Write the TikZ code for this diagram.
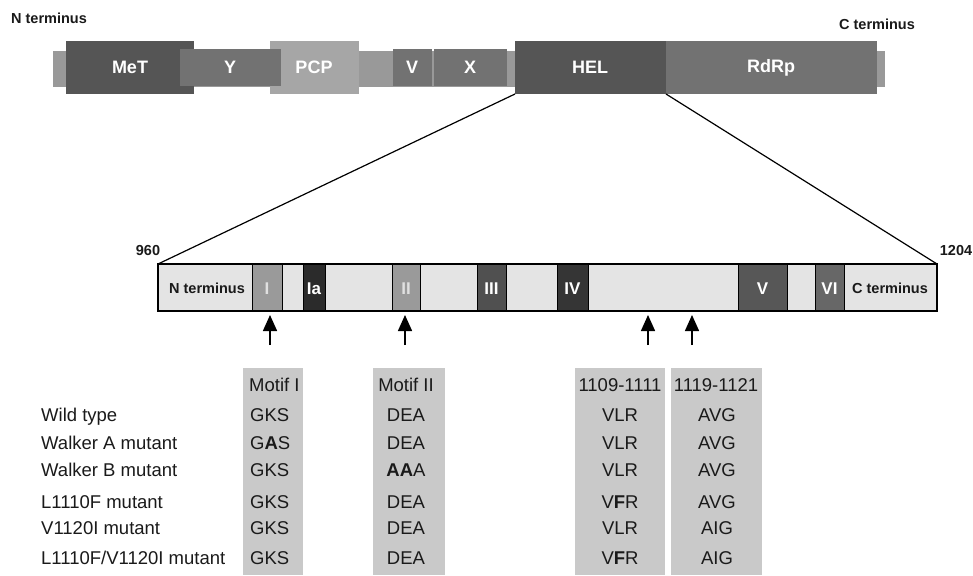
\documentclass[tikz,border=0pt]{standalone}
\usepackage{fontspec}
\setmainfont{Liberation Sans}
\usetikzlibrary{arrows.meta,fit}
\definecolor{stub}{HTML}{999999}
\definecolor{dark}{HTML}{555555}
\definecolor{mid}{HTML}{727272}
\definecolor{pcp}{HTML}{A6A6A6}
\definecolor{lbar}{HTML}{E4E4E4}
\definecolor{colg}{HTML}{C9C9C9}
\definecolor{mI}{HTML}{9A9A9A}
\definecolor{mIa}{HTML}{2B2B2B}
\definecolor{mIII}{HTML}{505050}
\definecolor{mIV}{HTML}{353535}
\definecolor{mV}{HTML}{575757}
\definecolor{mVI}{HTML}{676767}
\definecolor{txt}{HTML}{1A1A1A}
\begin{document}
\begin{tikzpicture}[x=1pt,y=-1pt,
  seg/.style={inner sep=0pt, outer sep=0pt, draw=none},
  lbl/.style={text=white, inner sep=0pt, anchor=base, font=\fontsize{18}{18}\selectfont\bfseries},
  motif/.style={inner sep=0pt, outer sep=0pt, draw=black, line width=1pt},
  mlbl/.style={text=white, inner sep=0pt, anchor=base, font=\fontsize{17}{17}\selectfont\bfseries},
  term/.style={text=txt, font=\fontsize{14.5}{14.5}\selectfont\bfseries, inner sep=0pt},
  tab/.style={text=txt, font=\fontsize{18.5}{18.5}\selectfont, inner sep=0pt, anchor=base},
  col/.style={inner sep=0pt, outer sep=0pt, fill=colg, draw=none},
  arr/.style={-{Triangle[width=14pt,length=16pt]}, line width=1.5pt, black},
  zoomline/.style={line width=1.2pt, black}
]
\useasboundingbox (0,0) rectangle (973,575);
\fill[white] (0,0) rectangle (973,575);

% ---------- top polyprotein bar ----------
\node[seg, fill=stub, fit={(53,51)(885,87)}] (base) {};
\node[seg, fill=dark, fit={(66,41)(194,94)}] (met) {};
\node[seg, fill=pcp, fit={(270,41)(359,94)}] (pcp) {};
\node[seg, fill=mid, fit={(180,49)(281,86)}] (y) {};
\node[seg, fill=mid, fit={(393,49)(432,86)}] (v) {};
\node[seg, fill=mid, fit={(434,49)(507,86)}] (x) {};
\node[seg, fill=dark, fit={(515,41)(666,94)}] (hel) {};
\node[seg, fill=mid, fit={(666,41)(877,94)}] (rdrp) {};

\node[lbl] at (130,74) {MeT};
\node[lbl] at (230,74) {Y};
\node[lbl] at (314,74) {PCP};
\node[lbl] at (412,74) {V};
\node[lbl] at (470,74) {X};
\node[lbl] at (590,74) {HEL};
\node[lbl] at (771,73) {RdRp};

\node[term] (nterm) at (49,18) {N terminus};
\node[term] (cterm) at (877,24) {C terminus};

% ---------- helicase domain ----------
\node[seg, fill=lbar, fit={(158,264)(937,311)}] (heldom) {};
\node[motif, fill=mI, fit={(252,264)(282,311)}] (mI) {};
\node[motif, fill=mIa, fit={(303,264)(325,311)}] (mIa) {};
\node[motif, fill=mI, fit={(392,264)(420,311)}] (mII) {};
\node[motif, fill=mIII, fit={(477,264)(506,311)}] (mIII) {};
\node[motif, fill=mIV, fit={(557,264)(588,311)}] (mIV) {};
\node[motif, fill=mV, fit={(738,264)(787,311)}] (mV) {};
\node[motif, fill=mVI, fit={(815,264)(844,311)}] (mVI) {};
\draw[line width=1.2pt] (heldom.north west) rectangle (heldom.south east);

\node[mlbl, text=white!88!black] at (267,294) {I};
\node[mlbl] at (314,294) {Ia};
\node[mlbl, text=white!88!black] at (406,294) {II};
\node[mlbl] at (491.5,294) {III};
\node[mlbl] at (572.5,294) {IV};
\node[mlbl] at (762.5,294) {V};
\node[mlbl] at (829.5,294) {VI};

\node[term] (nt2) at (207,288) {N terminus};
\node[term] (ct2) at (890,288) {C terminus};
\node[term] (n960) at (148,251) {960};
\node[term] (n1204) at (956,251) {1204};

\draw[zoomline] (hel.south west) -- (heldom.north west);
\draw[zoomline] (hel.south east) -- (heldom.north east);

% ---------- arrows ----------
\coordinate (a1s) at (270,345); \coordinate (a1t) at (270,315);
\coordinate (a2s) at (405,345); \coordinate (a2t) at (405,315);
\coordinate (a3s) at (648,345); \coordinate (a3t) at (648,315);
\coordinate (a4s) at (692,345); \coordinate (a4t) at (692,315);
\draw[arr] (a1s) -- (a1t);
\draw[arr] (a2s) -- (a2t);
\draw[arr] (a3s) -- (a3t);
\draw[arr] (a4s) -- (a4t);

% ---------- table ----------
\node[col, fit={(243,368)(303,575)}] (c1) {};
\node[col, fit={(373,368)(445,575)}] (c2) {};
\node[col, fit={(575,368)(665,575)}] (c3) {};
\node[col, fit={(671,368)(762,575)}] (c4) {};

\node[tab, anchor=base west] (h1) at (249,391) {Motif I};
\node[tab] (h2) at (406,391) {Motif II};
\node[tab] (h3) at (620,391) {1109-1111};
\node[tab] (h4) at (716,391) {1119-1121};

\node[tab, anchor=base west] (r1) at (41,421) {Wild type};
\node[tab, anchor=base west] (r2) at (41,449) {Walker A mutant};
\node[tab, anchor=base west] (r3) at (41,476) {Walker B mutant};
\node[tab, anchor=base west] (r4) at (41,508) {L1110F mutant};
\node[tab, anchor=base west] (r5) at (41,534) {V1120I mutant};
\node[tab, anchor=base west] (r6) at (41,564) {L1110F/V1120I mutant};

\node[tab, anchor=base west] at (250,421) {GKS};
\node[tab, anchor=base west] at (250,449) {G\textbf{A}S};
\node[tab, anchor=base west] at (250,476) {GKS};
\node[tab, anchor=base west] at (250,508) {GKS};
\node[tab, anchor=base west] at (250,534) {GKS};
\node[tab, anchor=base west] at (250,564) {GKS};

\node[tab] at (406,421) {DEA};
\node[tab] at (406,449) {DEA};
\node[tab] at (406,476) {\textbf{AA}A};
\node[tab] at (406,508) {DEA};
\node[tab] at (406,534) {DEA};
\node[tab] at (406,564) {DEA};

\node[tab] at (620,421) {VLR};
\node[tab] at (620,449) {VLR};
\node[tab] at (620,476) {VLR};
\node[tab] at (620,508) {V\textbf{F}R};
\node[tab] at (620,534) {VLR};
\node[tab] at (620,564) {V\textbf{F}R};

\node[tab] at (717,421) {AVG};
\node[tab] at (717,449) {AVG};
\node[tab] at (717,476) {AVG};
\node[tab] at (717,508) {AVG};
\node[tab] at (717,534) {AIG};
\node[tab] at (717,564) {AIG};
\end{tikzpicture}
\end{document}
